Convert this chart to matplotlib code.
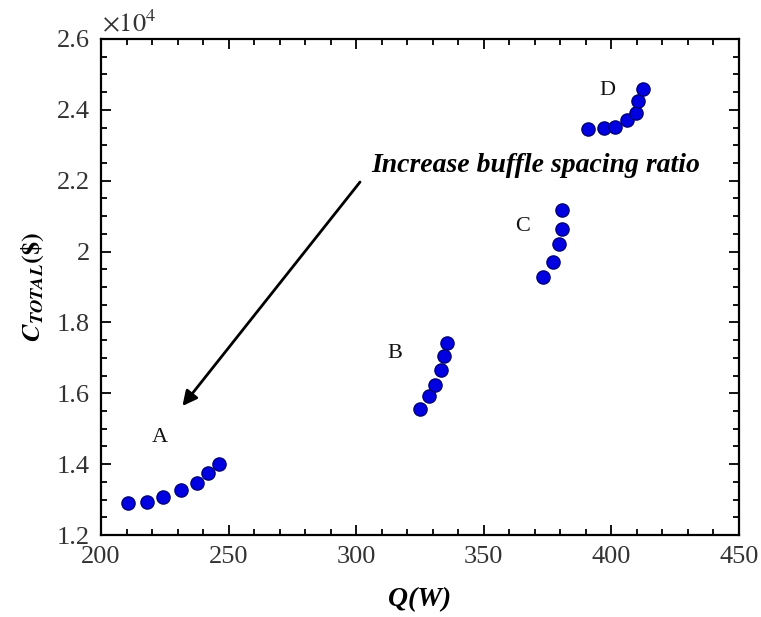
import matplotlib
matplotlib.use("Agg")
import matplotlib.pyplot as plt
from matplotlib.ticker import MultipleLocator, FuncFormatter

plt.rcParams['font.family'] = ['Liberation Serif', 'DejaVu Serif']
plt.rcParams['mathtext.fontset'] = 'stix'

# Data
qA = [210.5, 217.9, 224.2, 231.2, 237.6, 242.0, 246.4]
cA = [12895, 12931, 13081, 13262, 13468, 13758, 14012]
qB = [325.0, 328.6, 331.0, 333.1, 334.4, 335.7]
cB = [15556, 15915, 16242, 16666, 17044, 17428]
qC = [373.3, 377.0, 379.5, 380.6, 380.5]
cC = [19290, 19697, 20205, 20628, 21165]
qD = [390.7, 397.1, 401.3, 406.0, 409.5, 410.5, 412.5]
cD = [23451, 23487, 23524, 23705, 23902, 24249, 24579]

group_labels = ['A', 'B', 'C', 'D']
label_pos = [(223, 14766), (315.2, 17109), (365.3, 20700), (398.3, 24540)]

fig = plt.figure(figsize=(7.61, 6.17), dpi=100)
ax = fig.add_axes([101/761, 1-535/617, (739-101)/761, (535-39)/617])

for q, c in [(qA, cA), (qB, cB), (qC, cC), (qD, cD)]:
    ax.scatter(q, c, s=90, color='#0000e0', edgecolors='#00007a', linewidths=1.0, zorder=3)

for lab, (x, y) in zip(group_labels, label_pos):
    ax.text(x, y, lab, fontsize=16, ha='center', va='center', color='#111111')

ax.annotate('', xy=(231.9, 15641), xytext=(301.5, 21963),
            arrowprops=dict(arrowstyle='-|>', color='black', lw=2.0,
                            mutation_scale=22, shrinkA=0, shrinkB=0))
ax.text(305.8, 22443, 'Increase buffle spacing ratio', fontsize=20,
        fontweight='bold', fontstyle='italic', ha='left', va='center')

ax.set_xlim(200, 450)
ax.set_ylim(12000, 26000)
ax.xaxis.set_major_locator(MultipleLocator(50))
ax.xaxis.set_minor_locator(MultipleLocator(10))
ax.yaxis.set_major_locator(MultipleLocator(2000))
ax.yaxis.set_minor_locator(MultipleLocator(500))
ax.yaxis.set_major_formatter(FuncFormatter(lambda v, p: '%g' % round(v / 1e4, 2)))

ax.tick_params(which='both', direction='in', top=True, right=True, width=1.3,
               labelsize=19, labelcolor='#333333', pad=8)
ax.tick_params(which='major', length=7)
ax.tick_params(which='minor', length=4)
for s in ax.spines.values():
    s.set_linewidth(1.6)

ax.text(0.002, 1.005, r'$\times10^4$', transform=ax.transAxes, fontsize=19,
        color='#333333', ha='left', va='bottom')

ax.set_xlabel('Q(W)', fontsize=20, fontweight='bold', fontstyle='italic', labelpad=14)
ax.set_ylabel(r'$\mathbfit{C}_{\mathbfit{TOTAL}}\mathbf{(\$)}$', fontsize=19, labelpad=8)

fig.savefig('out.png', dpi=100)
